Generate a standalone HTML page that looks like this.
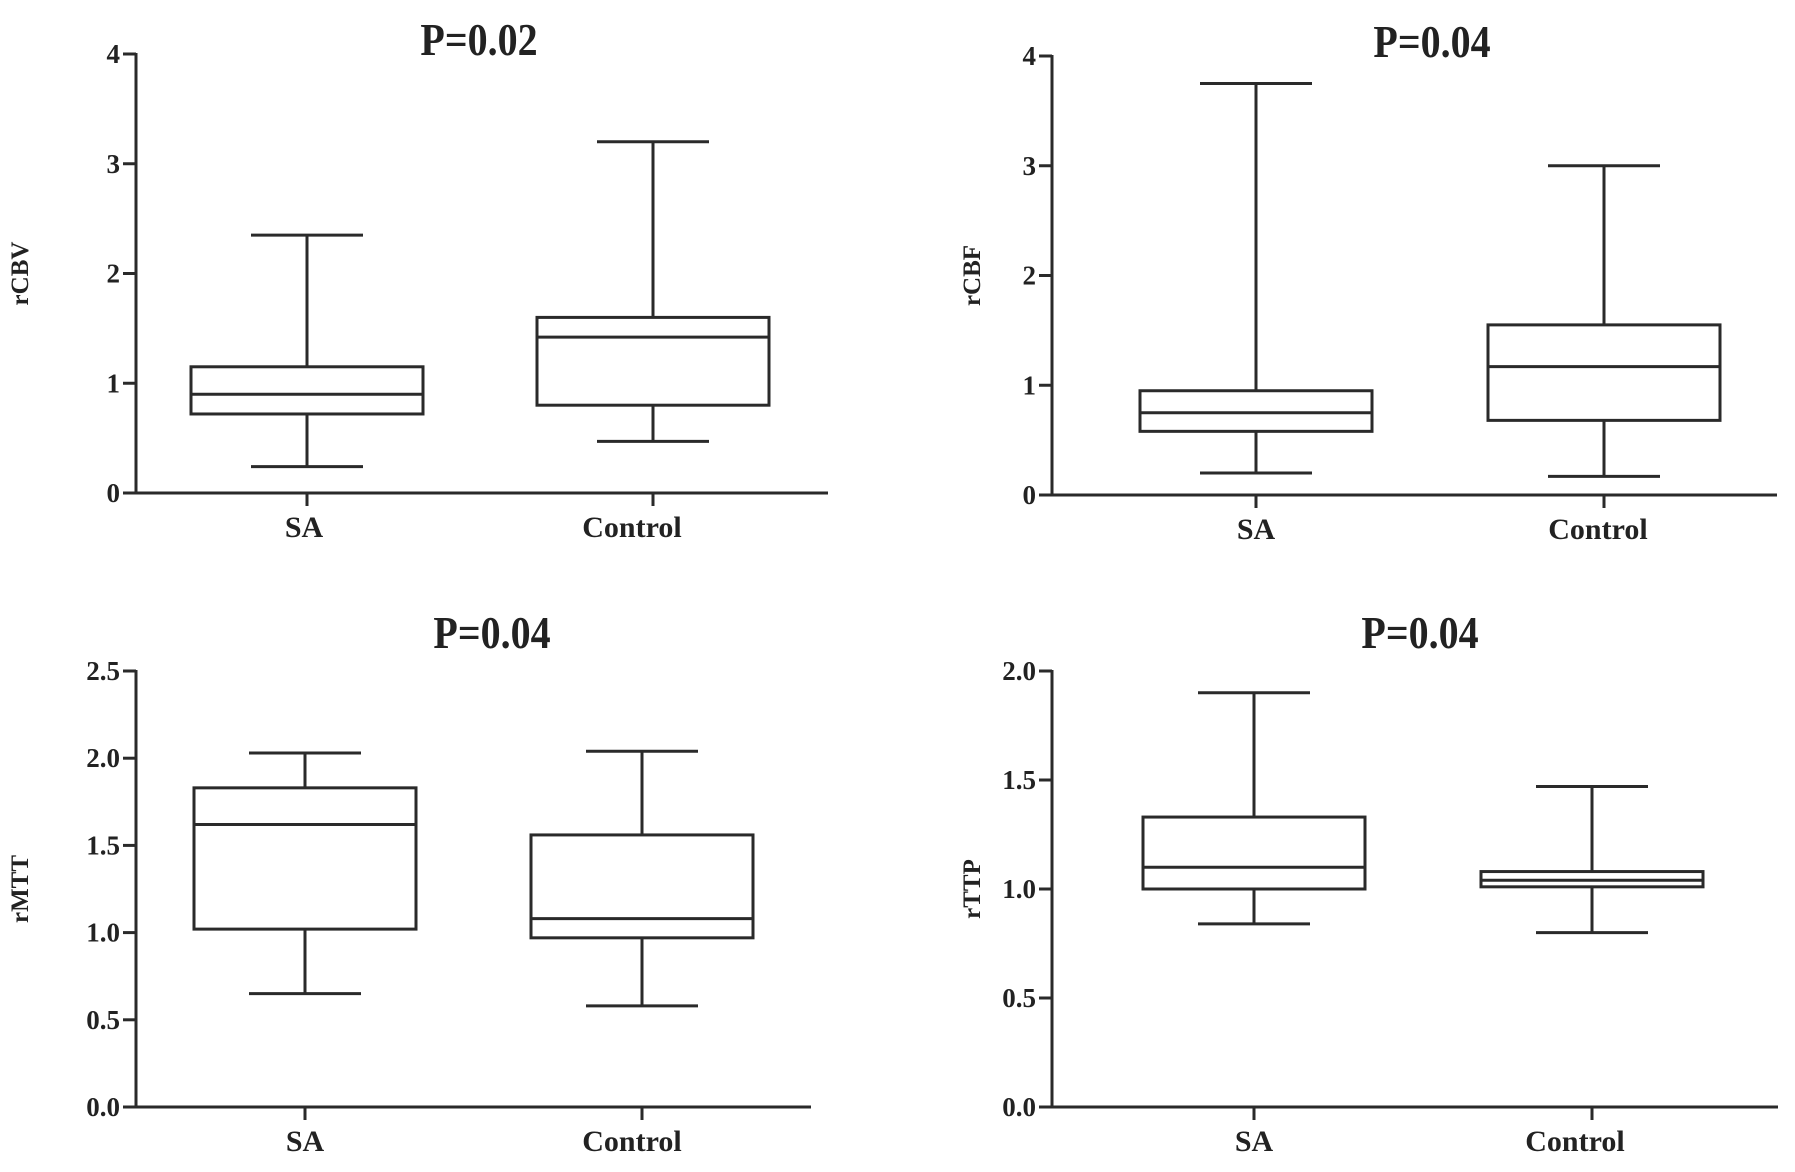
<!DOCTYPE html>
<html><head><meta charset="utf-8"><style>
html,body{margin:0;padding:0;background:#fff;}
svg{display:block;}
text{font-family:"Liberation Serif",serif;font-weight:bold;fill:#222;}
</style></head><body>
<svg id="chart" width="1795" height="1172" viewBox="0 0 1795 1172" xmlns="http://www.w3.org/2000/svg"></svg>
<script>
const categories = ["SA", "Control"];
const titles = ["P=0.02", "P=0.04", "P=0.04", "P=0.04"];
const yLabels = ["rCBV", "rCBF", "rMTT", "rTTP"];
const yMaxes = [4, 4, 2.5, 2.0];
const tickValues = [[0,1,2,3,4],[0,1,2,3,4],[0,0.5,1,1.5,2,2.5],[0,0.5,1,1.5,2]];
const tickLabels = [["0","1","2","3","4"],["0","1","2","3","4"],["0.0","0.5","1.0","1.5","2.0","2.5"],["0.0","0.5","1.0","1.5","2.0"]];
// [min, q1, median, q3, max] per category
const rcbvSA = [0.24, 0.72, 0.90, 1.15, 2.35];
const rcbvControl = [0.47, 0.80, 1.42, 1.60, 3.20];
const rcbfSA = [0.20, 0.58, 0.75, 0.95, 3.75];
const rcbfControl = [0.17, 0.68, 1.17, 1.55, 3.00];
const rmttSA = [0.65, 1.02, 1.62, 1.83, 2.03];
const rmttControl = [0.58, 0.97, 1.08, 1.56, 2.04];
const rttpSA = [0.84, 1.00, 1.10, 1.33, 1.90];
const rttpControl = [0.80, 1.01, 1.04, 1.08, 1.47];
const seriesData = [[rcbvSA, rcbvControl],[rcbfSA, rcbfControl],[rmttSA, rmttControl],[rttpSA, rttpControl]];

const panels = [
  {ax:136, top:54, bot:493, right:828, cx:[307,653], bw:232, tx:479, ty:55, lx:28, ls:[-3,-21]},
  {ax:1052, top:56, bot:495, right:1777, cx:[1256,1604], bw:232, tx:1432, ty:57, lx:980, ls:[0,-6]},
  {ax:136, top:671, bot:1107, right:811, cx:[305,642], bw:222, tx:492, ty:648, lx:28, ls:[0,-10]},
  {ax:1052, top:671, bot:1107, right:1778, cx:[1254,1592], bw:222, tx:1420, ty:648, lx:980, ls:[0,-17]}
];
const svg = document.getElementById('chart');
const NS = "http://www.w3.org/2000/svg";
function mk(tag, attrs, parent){const e=document.createElementNS(NS,tag);for(const k in attrs)e.setAttribute(k,attrs[k]);parent.appendChild(e);return e;}
const stroke = {stroke:"#2a2a2a","stroke-width":3,fill:"none"};
function line(p,x1,y1,x2,y2){return mk('line',Object.assign({x1,y1,x2,y2},stroke),p);}

panels.forEach((P,i)=>{
  const g = mk('g',{},svg);
  
  
  const y = v => P.bot - (v/yMaxes[i])*(P.bot-P.top);
  const t = mk('text',{x:P.tx,y:P.ty,'text-anchor':'middle','font-size':40,transform:`translate(0 ${P.ty}) scale(1 1.15) translate(0 ${-P.ty})`},g);
  t.textContent = titles[i];
  
  
  const yl = mk('text',{x:0,y:0,'text-anchor':'middle','font-size':25,transform:`translate(${P.lx} ${(P.top+P.bot)/2}) rotate(-90)`},g);
  yl.textContent = yLabels[i];
  
  
  const ya = line(g,P.ax,P.top-1,P.ax,P.bot);
  
  
  const xa = line(g,P.ax-13,P.bot,P.right,P.bot);
  
  
  tickValues[i].forEach((v,k)=>{
    line(g,P.ax-13,y(v),P.ax,y(v));
    const tl = mk('text',{x:P.ax-16,y:y(v)+9,'text-anchor':'end','font-size':27},g);
    tl.textContent = tickLabels[i][k];
    
    
  });
  categories.forEach((c,j)=>{
    const cx = P.cx[j];
    line(g,cx,P.bot,cx,P.bot+13);
    const cl = mk('text',{x:cx+P.ls[j],y:P.bot+44,'text-anchor':'middle','font-size':30},g);
    cl.textContent = c;
    
    
    const d = seriesData[i][j];
    const bg = mk('g',{},g);
    
    
    const half = P.bw/2, cap = 56;
    line(bg,cx,y(d[0]),cx,y(d[1]));
    line(bg,cx,y(d[3]),cx,y(d[4]));
    line(bg,cx-cap,y(d[0]),cx+cap,y(d[0]));
    line(bg,cx-cap,y(d[4]),cx+cap,y(d[4]));
    mk('rect',Object.assign({x:cx-half,y:y(d[3]),width:P.bw,height:y(d[1])-y(d[3])},stroke),bg);
    line(bg,cx-half,y(d[2]),cx+half,y(d[2]));
  });
});
</script>
</body></html>
